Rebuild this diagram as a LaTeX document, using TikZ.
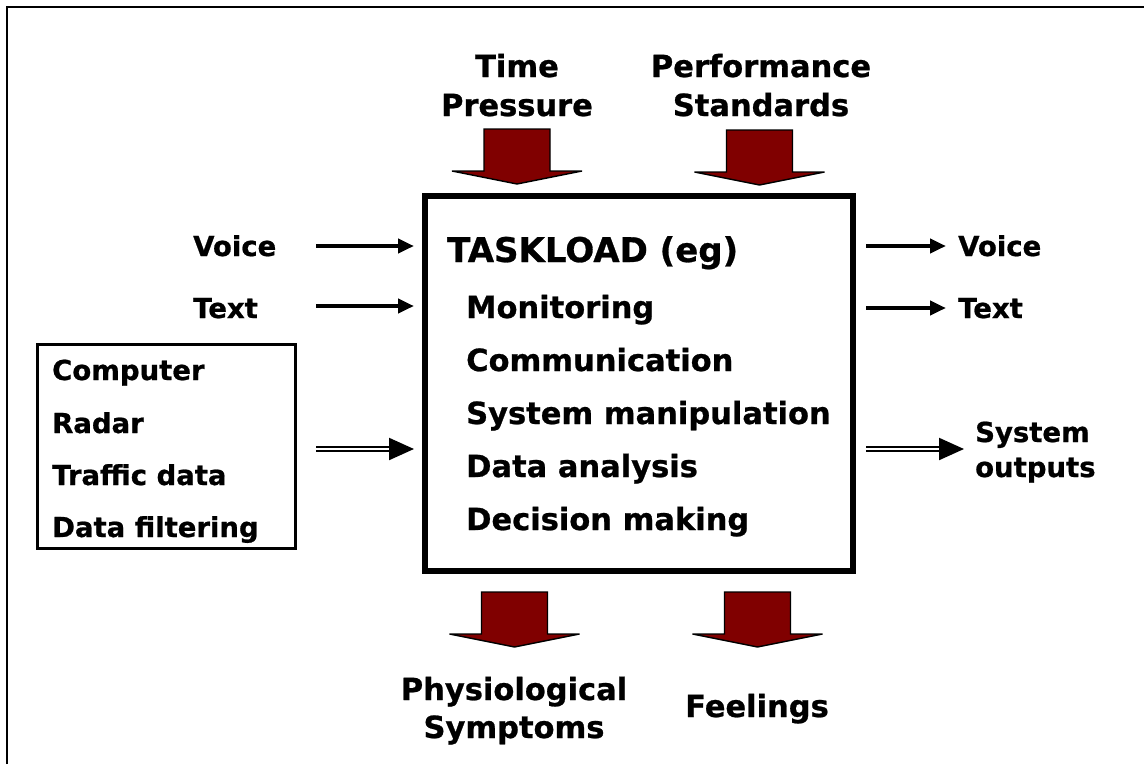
\documentclass[tikz,border=0pt]{standalone}
\usepackage{fontspec}
\setmainfont{DejaVu Sans}[BoldFeatures={FakeBold=0.8}]
\usetikzlibrary{arrows.meta}
\definecolor{blockred}{RGB}{128,0,0}
\begin{document}
\begin{tikzpicture}[x=1pt,y=-1pt,
  lbl/.style={font=\fontsize{27.5}{33}\selectfont\bfseries, inner sep=0pt, anchor=base west},
  item/.style={font=\fontsize{30.5}{36}\selectfont\bfseries, inner sep=0pt, anchor=base west},
  toplbl/.style={font=\fontsize{30.5}{38}\selectfont\bfseries, inner sep=0pt, anchor=base, align=center},
  thinarrow/.style={line width=4pt, -{Triangle[length=16pt,width=14pt]}},
  dblarrow/.style={double, line width=2.2pt, double distance=2.2pt, -{Triangle[length=25pt,width=22pt]}},
  blockarrow/.pic={\draw[fill=blockred, line width=1.4pt, line join=miter]
     (-33,0) -- (33,0) -- (33,42) -- (65,42) -- (0,55) -- (-65,42) -- (-33,42) -- cycle;}
]
\useasboundingbox (0,0) rectangle (1144,764);
% outer frame (only top and left visible)
\draw[line width=2pt] (7,764) -- (7,7) -- (1144,7);

% main box
\node[draw, line width=6pt, minimum width=428pt, minimum height=375pt, inner sep=0pt] (task) at (639,383.5) {};
\node[item, font=\fontsize{34}{40}\selectfont\bfseries] (tl) at (447,262) {TASKLOAD (eg)};
\node[item] (i1) at (466,318) {Monitoring};
\node[item] (i2) at (466,371) {Communication};
\node[item] (i3) at (466,424) {System manipulation};
\node[item] (i4) at (466,477) {Data analysis};
\node[item] (i5) at (466,530) {Decision making};

% left source box
\node[draw, line width=3pt, minimum width=258pt, minimum height=204pt, inner sep=0pt] (src) at (166.5,446.5) {};
\node[lbl] (s1) at (52,380) {Computer};
\node[lbl] (s2) at (52,433) {Radar};
\node[lbl] (s3) at (52,485) {Traffic data};
\node[lbl] (s4) at (52,537) {Data f{}iltering};

% left inputs
\node[lbl] (vin) at (193,256) {Voice};
\node[lbl] (tin) at (193,318) {Text};
\coordinate (vinS) at (316,246);
\coordinate (vinE) at (414,246);
\coordinate (tinS) at (316,306);
\coordinate (tinE) at (414,306);
\draw[thinarrow] (vinS) -- (vinE);
\draw[thinarrow] (tinS) -- (tinE);
\coordinate (dinS) at (316,449);
\coordinate (dinE) at (414,449);
\draw[dblarrow] (dinS) -- (dinE);

% right outputs
\node[lbl] (vout) at (958,256) {Voice};
\node[lbl] (tout) at (958,318) {Text};
\coordinate (voutS) at (866,246);
\coordinate (voutE) at (946,246);
\coordinate (toutS) at (866,308);
\coordinate (toutE) at (946,308);
\draw[thinarrow] (voutS) -- (voutE);
\draw[thinarrow] (toutS) -- (toutE);
\node[lbl] (so1) at (975,442) {System};
\node[lbl] (so2) at (975,477) {outputs};
\coordinate (doutS) at (866,449);
\coordinate (doutE) at (964,449);
\draw[dblarrow] (doutS) -- (doutE);

% top pressures
\node[toplbl] (tp) at (517,77) {Time};
\node[toplbl] (tp2) at (517,116) {Pressure};
\node[toplbl] (ps) at (761,77) {Performance};
\node[toplbl] (ps2) at (761,116) {Standards};
\pic (ta1) at (517,129) {blockarrow};
\pic (ta2) at (759.5,130) {blockarrow};

% bottom outcomes
\pic (ba1) at (514.5,592) {blockarrow};
\pic (ba2) at (757.5,592) {blockarrow};
\node[toplbl] (ph) at (514,700) {Physiological};
\node[toplbl] (ph2) at (514,738) {Symptoms};
\node[toplbl] (fe) at (757,717) {Feelings};
\end{tikzpicture}
\end{document}
